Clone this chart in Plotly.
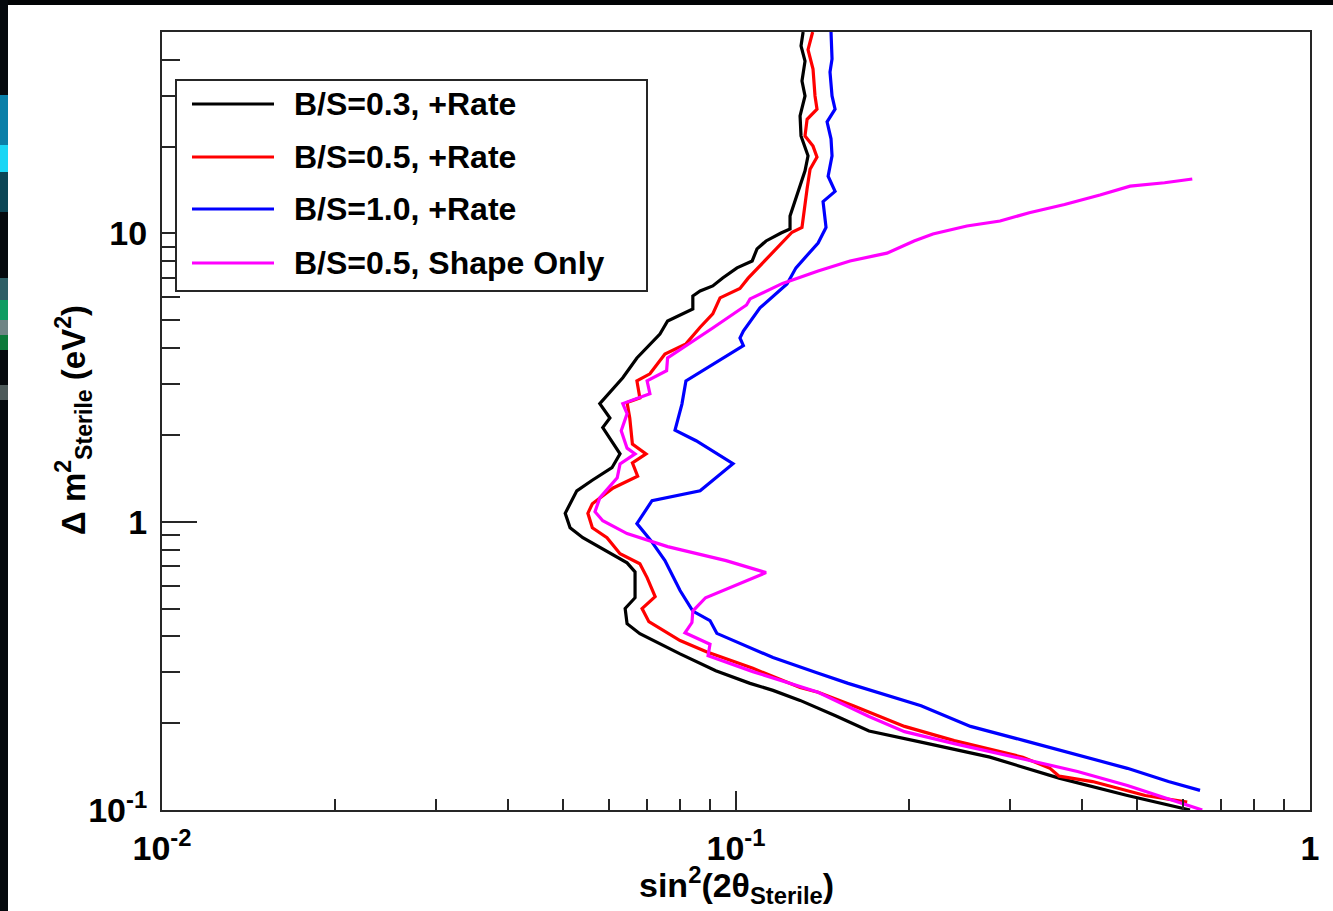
import plotly.graph_objects as go

# ---------------- data ----------------
sin2_bs03 = [0.1309, 0.1298, 0.1319, 0.1303, 0.1319, 0.1293, 0.1298, 0.1335, 0.1319, 0.1293,
             0.1267, 0.1242, 0.1242, 0.1198, 0.1128, 0.1088, 0.1067, 0.1004, 0.0948, 0.0911,
             0.0866, 0.0841, 0.0841, 0.0760, 0.0737, 0.0672, 0.0635, 0.0579, 0.0603, 0.0586,
             0.0628, 0.0608, 0.0561, 0.0528, 0.0504, 0.0514, 0.0541, 0.0603, 0.0646, 0.0667,
             0.0667, 0.0641, 0.0646, 0.0680, 0.0799, 0.0922, 0.1058, 0.1160, 0.1293, 0.1494,
             0.1705, 0.2101, 0.277, 0.3655, 0.4807, 0.618]
dm2_bs03 = [50, 44.7, 39.6, 33.8, 30.0, 25.6, 21.8, 18.6, 16.5, 14.6,
            13.0, 11.5, 10.37, 10.04, 9.42, 8.84, 8.03, 7.6, 7.01, 6.58,
            6.32, 6.07, 5.47, 4.97, 4.48, 3.70, 3.16, 2.57, 2.29, 2.12,
            1.72, 1.54, 1.39, 1.28, 1.07, 0.953, 0.880, 0.775, 0.72, 0.67,
            0.545, 0.50, 0.443, 0.409, 0.348, 0.304, 0.275, 0.260, 0.240, 0.212,
            0.188, 0.172, 0.1525, 0.129, 0.1123, 0.1]

sin2_bs05 = [0.1360, 0.1335, 0.1362, 0.1373, 0.1384, 0.1330, 0.1319, 0.1362, 0.1384, 0.1346,
             0.1330, 0.1309, 0.1303, 0.1252, 0.1174, 0.1101, 0.1050, 0.1016, 0.0938, 0.0911,
             0.0866, 0.0818, 0.0752, 0.0708, 0.0672, 0.0680, 0.0646, 0.0653, 0.0660, 0.0697,
             0.0660, 0.0674, 0.0611, 0.0562, 0.0552, 0.0562, 0.0596, 0.0628, 0.0680, 0.0700,
             0.0723, 0.0686, 0.0705, 0.0799, 0.0888, 0.1070, 0.1293, 0.1390, 0.1601, 0.1966,
             0.2400, 0.316, 0.3524, 0.3655, 0.418, 0.5165, 0.611]
dm2_bs05 = [50, 43.4, 37.2, 30.0, 27.0, 24.9, 21.8, 20.1, 18.4, 16.7,
            14.3, 11.5, 10.5, 10.1, 8.84, 7.72, 7.0, 6.45, 5.98, 5.26,
            4.73, 4.14, 3.82, 3.26, 3.08, 2.69, 2.59, 2.29, 1.86, 1.72,
            1.60, 1.44, 1.31, 1.155, 1.07, 0.953, 0.88, 0.775, 0.715, 0.64,
            0.55, 0.50, 0.45, 0.387, 0.354, 0.31, 0.266, 0.256, 0.230, 0.195,
            0.174, 0.1525, 0.1395, 0.131, 0.1255, 0.1123, 0.1065]

sin2_bs10 = [0.1464, 0.1470, 0.1458, 0.1470, 0.1488, 0.1441, 0.1464, 0.1470, 0.1447, 0.1488,
             0.1418, 0.1435, 0.1390, 0.1272, 0.1227, 0.1146, 0.1101, 0.1030, 0.1016, 0.1030,
             0.0818, 0.0805, 0.0783, 0.0852, 0.0988, 0.0866, 0.0714, 0.0672, 0.0711, 0.0752,
             0.0799, 0.0841, 0.0901, 0.0926, 0.1160, 0.1379, 0.1568, 0.2101, 0.2562, 0.3179,
             0.3935, 0.4807, 0.5667, 0.6433]
dm2_bs10 = [50, 40.3, 36.3, 30.0, 27.0, 24.4, 21.3, 18.6, 15.8, 14.0,
            12.9, 10.5, 9.27, 7.6, 6.68, 5.93, 5.52, 4.59, 4.34, 4.08,
            3.08, 2.56, 2.08, 1.91, 1.59, 1.28, 1.183, 0.985, 0.86, 0.733,
            0.577, 0.49, 0.454, 0.41, 0.338, 0.300, 0.275, 0.230, 0.195, 0.174,
            0.155, 0.1395, 0.1255, 0.117]

sin2_shape = [0.6236, 0.558, 0.486, 0.4306, 0.3736, 0.3243, 0.2884, 0.2525, 0.2203, 0.2043,
              0.1832, 0.1580, 0.1390, 0.1205, 0.1058, 0.1043, 0.0911, 0.0818, 0.0760, 0.0757,
              0.0700, 0.0708, 0.0635, 0.0646, 0.0631, 0.0646, 0.0667, 0.0628, 0.0621, 0.0579,
              0.0568, 0.0586, 0.0646, 0.0760, 0.0961, 0.1128, 0.1016, 0.0885, 0.0841, 0.0838,
              0.0815, 0.0901, 0.0894, 0.1070, 0.1390, 0.1705, 0.1966, 0.2400, 0.3179, 0.3935,
              0.4807, 0.5913, 0.6490]
dm2_shape = [15.45, 15.0, 14.6, 13.6, 12.6, 11.8, 11.05, 10.62, 9.96, 9.42,
             8.55, 8.03, 7.41, 6.71, 5.93, 5.65, 4.70, 4.08, 3.70, 3.34,
             3.08, 2.78, 2.57, 2.37, 2.07, 1.80, 1.72, 1.588, 1.42, 1.21,
             1.083, 1.008, 0.91, 0.82, 0.733, 0.666, 0.61, 0.545, 0.49, 0.447,
             0.412, 0.376, 0.343, 0.302, 0.256, 0.211, 0.187, 0.170, 0.150, 0.136,
             0.1216, 0.1062, 0.1]

series_names = ["B/S=0.3, +Rate", "B/S=0.5, +Rate", "B/S=1.0, +Rate", "B/S=0.5, Shape Only"]
series_colors = ["#000000", "#ff0000", "#0000ff", "#ff00ff"]
series_x = [sin2_bs03, sin2_bs05, sin2_bs10, sin2_shape]
series_y = [dm2_bs03, dm2_bs05, dm2_bs10, dm2_shape]

x_tickvals = [0.01, 0.1, 1]
x_ticktext = ["10<sup>-2</sup>", "10<sup>-1</sup>", "1"]
x_minor = [0.02, 0.03, 0.04, 0.05, 0.06, 0.07, 0.08, 0.09,
           0.2, 0.3, 0.4, 0.5, 0.6, 0.7, 0.8, 0.9]
y_tickvals = [0.1, 1, 10]
y_ticktext = ["10<sup>-1</sup>", "1", "10"]
y_minor = [0.2, 0.3, 0.4, 0.5, 0.6, 0.7, 0.8, 0.9,
           2, 3, 4, 5, 6, 7, 8, 9, 20, 30, 40]

# ---------------- figure ----------------
W, H = 1333, 911
ML, MR, MT, MB = 162, 23, 32, 101
PW, PH = W - ML - MR, H - MT - MB


def px2paper_x(px):
    return (px - ML) / PW


def px2paper_y(py):
    return (H - MB - py) / PH


FONT = "Liberation Sans, Arial, Helvetica, sans-serif"
AX = "#262626"

fig = go.Figure()
for name, xs, ys, col in zip(series_names, series_x, series_y, series_colors):
    fig.add_trace(go.Scatter(x=xs, y=ys, mode="lines", name=name,
                             line=dict(color=col, width=3.2), showlegend=False,
                             hoverinfo="skip"))

fig.update_layout(
    width=W, height=H, autosize=False,
    margin=dict(l=ML, r=MR, t=MT, b=MB, pad=0),
    paper_bgcolor="white", plot_bgcolor="white",
    showlegend=False,
    xaxis=dict(type="log", range=[-2, 0], tickmode="array",
               tickvals=x_tickvals, ticktext=x_ticktext,
               ticks="inside", ticklen=19, tickwidth=2, tickcolor=AX,
               showline=True, linecolor=AX, linewidth=2, mirror=True,
               showgrid=False, zeroline=False,
               tickfont=dict(family=FONT, size=34, color="black", weight="bold"),
               ticklabelstandoff=7,
               minor=dict(tickmode="array", tickvals=x_minor, ticks="inside",
                          ticklen=11, tickwidth=2, tickcolor=AX, showgrid=False)),
    yaxis=dict(type="log", range=[-1, 1.69897], tickmode="array",
               tickvals=y_tickvals, ticktext=y_ticktext,
               ticks="inside", ticklen=35, tickwidth=2, tickcolor=AX,
               showline=True, linecolor=AX, linewidth=2, mirror=True,
               showgrid=False, zeroline=False,
               tickfont=dict(family=FONT, size=34, color="black", weight="bold"),
               ticklabelstandoff=6,
               minor=dict(tickmode="array", tickvals=y_minor, ticks="inside",
                          ticklen=18, tickwidth=2, tickcolor=AX, showgrid=False)),
)

shapes = []
annotations = []

# axis titles
annotations.append(dict(xref="paper", yref="paper", x=px2paper_x(736), y=px2paper_y(885),
                        xanchor="center", yanchor="middle", showarrow=False,
                        text="sin<sup>2</sup>(2θ<sub>Sterile</sub>)",
                        font=dict(family=FONT, size=34, color="black", weight="bold")))
annotations.append(dict(xref="paper", yref="paper", x=px2paper_x(73), y=px2paper_y(420),
                        xanchor="center", yanchor="middle", showarrow=False, textangle=-90,
                        text="Δ m<sup>2</sup><sub>Sterile</sub> (eV<sup>2</sup>)",
                        font=dict(family=FONT, size=33, color="black", weight="bold")))

# legend box (drawn manually, ROOT style)
shapes.append(dict(type="rect", xref="paper", yref="paper", layer="above",
                   x0=px2paper_x(176), x1=px2paper_x(647),
                   y0=px2paper_y(291), y1=px2paper_y(80),
                   line=dict(color=AX, width=2), fillcolor="white"))
legend_rows = [104, 157, 209, 263]
for name, col, row in zip(series_names, series_colors, legend_rows):
    shapes.append(dict(type="line", xref="paper", yref="paper", layer="above",
                       x0=px2paper_x(192), x1=px2paper_x(274),
                       y0=px2paper_y(row), y1=px2paper_y(row),
                       line=dict(color=col, width=3.2)))
    annotations.append(dict(xref="paper", yref="paper", x=px2paper_x(292), y=px2paper_y(row),
                            xanchor="left", yanchor="middle", showarrow=False, text=name,
                            font=dict(family=FONT, size=32, color="black", weight="bold")))

# dark slide border seen at the top and left edges of the picture
shapes.append(dict(type="rect", xref="paper", yref="paper", layer="above",
                   x0=px2paper_x(0), x1=px2paper_x(W), y0=px2paper_y(5), y1=px2paper_y(0),
                   line=dict(width=0), fillcolor="#020406"))
shapes.append(dict(type="rect", xref="paper", yref="paper", layer="above",
                   x0=px2paper_x(0), x1=px2paper_x(8), y0=px2paper_y(H), y1=px2paper_y(0),
                   line=dict(width=0), fillcolor="#05090d"))
strip_bits = [(95, 145, "#0a7fa8"), (145, 172, "#1ad6f5"), (172, 212, "#0b4555"),
              (278, 300, "#2e5f66"), (300, 320, "#0e9c62"), (320, 335, "#6f8585"),
              (335, 350, "#0c7a3a"), (385, 400, "#4d5a5a")]
for y0, y1, c in strip_bits:
    shapes.append(dict(type="rect", xref="paper", yref="paper", layer="above",
                       x0=px2paper_x(0), x1=px2paper_x(8), y0=px2paper_y(y1), y1=px2paper_y(y0),
                       line=dict(width=0), fillcolor=c))

fig.update_layout(shapes=shapes, annotations=annotations)
fig.write_html("out.html")
